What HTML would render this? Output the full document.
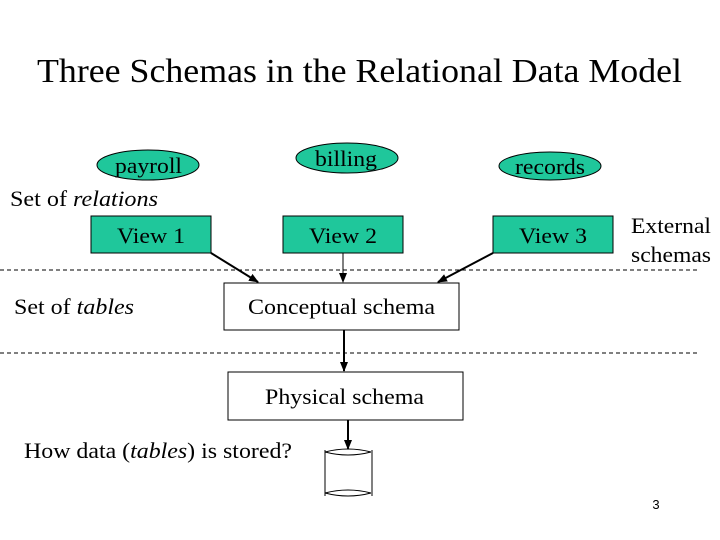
<!DOCTYPE html>
<html><head><style>body{margin:0;background:#fff}svg{display:block}</style></head><body>
<svg width="720" height="540" xmlns="http://www.w3.org/2000/svg" font-family="Liberation Serif, serif">
<defs><marker id="a" markerWidth="10" markerHeight="8" refX="9" refY="4" orient="auto" markerUnits="userSpaceOnUse"><path d="M0,0 L10,4 L0,8 z" fill="#000"/></marker></defs>
<text x="37" y="82" font-size="34" textLength="645" lengthAdjust="spacingAndGlyphs">Three Schemas in the Relational Data Model</text>
<ellipse cx="148" cy="165" rx="51" ry="15" fill="#1fc79b" stroke="#000"/>
<text x="115" y="173" font-size="22" textLength="67" lengthAdjust="spacingAndGlyphs">payroll</text>
<ellipse cx="347" cy="158" rx="51" ry="15" fill="#1fc79b" stroke="#000"/>
<text x="315" y="166" font-size="22" textLength="62" lengthAdjust="spacingAndGlyphs">billing</text>
<ellipse cx="550" cy="166" rx="51" ry="14" fill="#1fc79b" stroke="#000"/>
<text x="515" y="174" font-size="22" textLength="70" lengthAdjust="spacingAndGlyphs">records</text>
<text x="10" y="206" font-size="22" textLength="148" lengthAdjust="spacingAndGlyphs">Set of <tspan font-style="italic">relations</tspan></text>
<rect x="91" y="216" width="120" height="37" fill="#1fc79b" stroke="#000"/>
<text x="117" y="243" font-size="22" textLength="68" lengthAdjust="spacingAndGlyphs">View 1</text>
<rect x="283" y="216" width="120" height="37" fill="#1fc79b" stroke="#000"/>
<text x="309" y="243" font-size="22" textLength="68" lengthAdjust="spacingAndGlyphs">View 2</text>
<rect x="493" y="216" width="120" height="37" fill="#1fc79b" stroke="#000"/>
<text x="519" y="243" font-size="22" textLength="68" lengthAdjust="spacingAndGlyphs">View 3</text>
<text x="631" y="233" font-size="22" textLength="80" lengthAdjust="spacingAndGlyphs">External</text>
<text x="631" y="262" font-size="22" textLength="80" lengthAdjust="spacingAndGlyphs">schemas</text>
<line x1="0" y1="270" x2="697" y2="270" stroke="#000" stroke-dasharray="4,3"/>
<line x1="0" y1="353" x2="697" y2="353" stroke="#000" stroke-dasharray="4,3"/>
<line x1="211" y1="253" x2="258" y2="282" stroke="#000" stroke-width="2" marker-end="url(#a)"/>
<line x1="343" y1="253" x2="343" y2="282" stroke="#000" marker-end="url(#a)"/>
<line x1="493" y1="253" x2="438" y2="282" stroke="#000" stroke-width="2" marker-end="url(#a)"/>
<text x="14" y="314" font-size="22" textLength="120" lengthAdjust="spacingAndGlyphs">Set of <tspan font-style="italic">tables</tspan></text>
<rect x="224" y="283" width="235" height="47" fill="#fff" stroke="#000"/>
<text x="248" y="314" font-size="22" textLength="187" lengthAdjust="spacingAndGlyphs">Conceptual schema</text>
<line x1="344" y1="330" x2="344" y2="371" stroke="#000" stroke-width="2" marker-end="url(#a)"/>
<rect x="228" y="372" width="235" height="48" fill="#fff" stroke="#000"/>
<text x="265" y="404" font-size="22" textLength="159" lengthAdjust="spacingAndGlyphs">Physical schema</text>
<text x="24" y="458" font-size="22" textLength="268" lengthAdjust="spacingAndGlyphs">How data (<tspan font-style="italic">tables</tspan>) is stored?</text>
<line x1="348" y1="420" x2="348" y2="449" stroke="#000" stroke-width="2" marker-end="url(#a)"/>
<path d="M325,452 Q348,446 371,452 M325,452 Q348,458 371,452" fill="none" stroke="#000"/>
<line x1="325" y1="450" x2="325" y2="496" stroke="#000"/>
<line x1="372" y1="450" x2="372" y2="496" stroke="#000"/>
<path d="M325,493 Q348,487 371,493 M325,493 Q348,499 371,493" fill="none" stroke="#000"/>
<text x="656" y="509" font-size="13" font-family="Liberation Sans, sans-serif" text-anchor="middle">3</text>
</svg>
</body></html>
